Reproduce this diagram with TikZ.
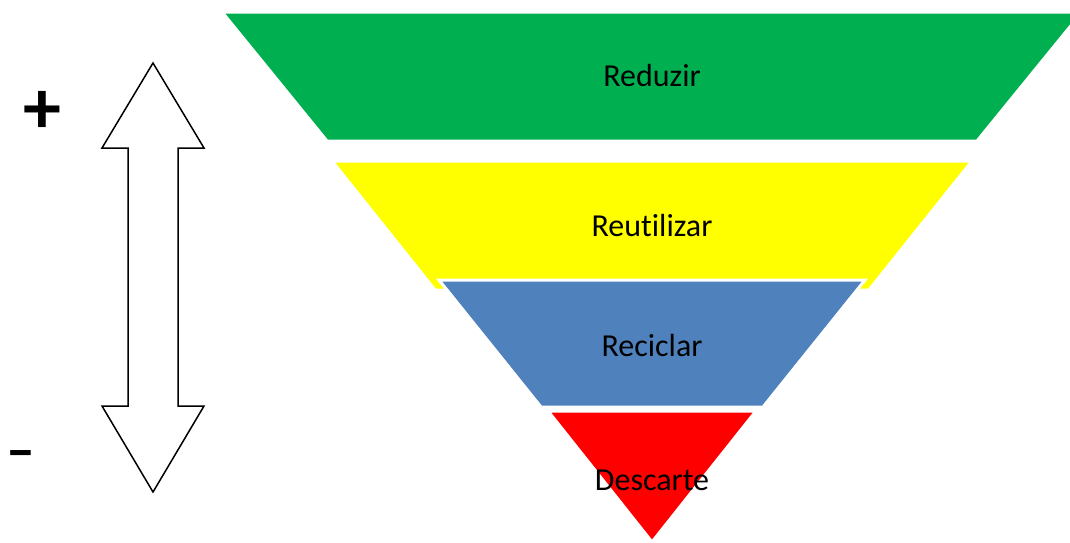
\documentclass[tikz,border=0pt]{standalone}
\usepackage{fontspec}
\setmainfont[Ligatures=NoCommon]{Carlito}
\definecolor{verde}{HTML}{00B050}
\definecolor{amarelo}{HTML}{FFFF00}
\definecolor{azul}{HTML}{4F81BD}
\definecolor{vermelho}{HTML}{FF0000}
\tikzset{
  camada/.style={draw=white,line width=3pt,line join=miter},
  rotulo/.style={font=\fontsize{32}{38}\selectfont,text=black},
  sinal/.style={font=\fontsize{76}{80}\selectfont\bfseries,inner sep=0pt}
}

\begin{document}
\begin{tikzpicture}[x=1pt,y=-1pt]
        \useasboundingbox (0,0) rectangle (1070,542);
        \clip (0,0) rectangle (1070,542);
        % layers of the pyramid
        \fill[camada,fill=verde] (222,12) -- (1082,12) -- (977,141) -- (327,141) -- cycle;
        \fill[camada,fill=amarelo] (332,161) -- (972,161) -- (869,290) -- (435,290) -- cycle;
        \filldraw[camada,fill=azul] (439,280) -- (865,280) -- (763,407) -- (541,407) -- cycle;
        \filldraw[camada,fill=vermelho] (548,411) -- (756,411) -- (652,542) -- cycle;
        \node[rotulo] (reduzir) at (652,76) {Reduzir};
        \node[rotulo] (reutilizar) at (652,225) {Reutilizar};
        \node[rotulo] (reciclar) at (652,345) {Reciclar};
        \node[rotulo] (descarte) at (652,480) {Descarte};
        % double arrow on the left
        \draw[line width=1.5pt,fill=white,line join=miter] (153,63) -- (204,148) -- (178,148)
        -- (178,406) -- (204,406) -- (153,492) -- (102,406) -- (128,406)
        -- (128,148) -- (102,148) -- cycle;
        \node[sinal] (mais) at (42,112) {+};
        \node[sinal,font=\fontsize{58}{60}\selectfont\bfseries] (menos) at (21,460) {–};
    \end{tikzpicture}
\end{document}
